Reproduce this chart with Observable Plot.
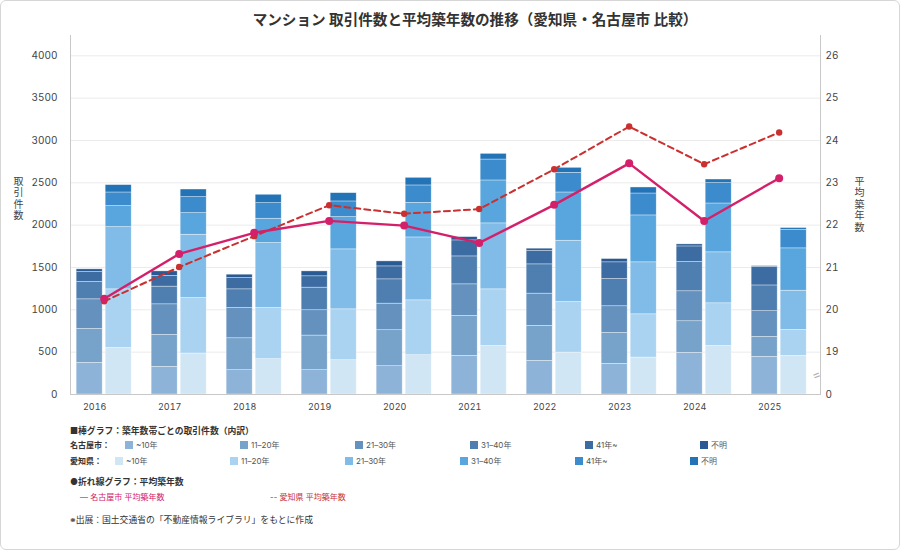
<!DOCTYPE html>
<html><head><meta charset="utf-8">
<script src="https://cdn.jsdelivr.net/npm/d3@7"></script>
<script src="https://cdn.jsdelivr.net/npm/@observablehq/plot@0.6"></script>
<style>
body{margin:0;background:#fff;font-family:Inter,"Noto Sans CJK JP",sans-serif;color:#333;}
#wrap{position:relative;width:900px;height:550px;overflow:hidden;background:#fff;}
#border{position:absolute;left:0;top:0;width:898px;height:548px;border:1px solid #d6d6d6;border-radius:6px;pointer-events:none;}
#title{position:absolute;left:0;top:0;width:950px;height:30px;line-height:40px;text-align:center;font-size:14.6px;font-weight:700;color:#333;}
#chart{position:absolute;left:0;top:30px;}
.vlab{position:absolute;writing-mode:vertical-rl;text-orientation:upright;font-size:10px;color:#444;letter-spacing:1.5px;}
.lg{position:absolute;font-size:8px;color:#555;white-space:nowrap;line-height:10px;}
.lgb{position:absolute;font-size:8.8px;font-weight:700;color:#333;white-space:nowrap;line-height:12px;}
.sw{position:absolute;width:8px;height:8px;}
</style></head>
<body><div id="wrap">
<div id="title">マンション 取引件数と平均築年数の推移（愛知県・名古屋市 比較）</div>
<div id="chart"></div>
<div class="vlab" style="left:11px;top:176px;">取引件数</div>
<div class="vlab" style="left:852px;top:176px;">平均築年数</div>
<div id="legend"></div>
<div id="border"></div>
</div>
<script>
const years = [2016, 2017, 2018, 2019, 2020, 2021, 2022, 2023, 2024, 2025];
const bands = ["~10年", "11–20年", "21–30年", "31–40年", "41年~", "不明"];
const regions = ["名古屋市", "愛知県"];

// 名古屋市 件数（築年数帯別）
const nagoya10   = [373, 326, 287, 287, 334, 456, 397, 362, 491, 444];
const nagoya1120 = [401, 378, 377, 409, 425, 472, 413, 365, 374, 236];
const nagoya2130 = [350, 361, 358, 299, 314, 373, 381, 315, 354, 304];
const nagoya3140 = [205, 209, 220, 267, 287, 330, 346, 322, 346, 304];
const nagoya41   = [118, 127, 134, 134, 153, 189, 161, 197, 184, 220];
const nagoyaUnk  = [31, 53, 39, 58, 59, 39, 24, 39, 24, 8];
// 愛知県 件数（築年数帯別）
const aichi10   = [550, 484, 417, 405, 464, 574, 495, 436, 574, 456];
const aichi1120 = [692, 656, 605, 601, 648, 668, 598, 511, 503, 307];
const aichi2130 = [735, 747, 767, 708, 743, 779, 723, 614, 602, 463];
const aichi3140 = [248, 255, 287, 381, 409, 507, 570, 554, 577, 500];
const aichi41   = [161, 189, 184, 185, 205, 247, 232, 259, 240, 220];
const aichiUnk  = [87, 90, 99, 98, 90, 67, 59, 71, 43, 20];
// 平均築年数
const nagoyaAvg = [20.26, 21.32, 21.82, 22.10, 21.99, 21.58, 22.48, 23.46, 22.10, 23.11];
const aichiAvg  = [20.20, 21.01, 21.74, 22.47, 22.27, 22.38, 23.32, 24.33, 23.44, 24.19];

const countTicks = [0, 500, 1000, 1500, 2000, 2500, 3000, 3500, 4000];
const avgTicks = [19, 20, 21, 22, 23, 24, 25, 26];
const avgBase = 18, avgUnit = 500, axisBreak = 18.5;

const nagoyaColors = ["#8db4d8", "#77a2c9", "#6491be", "#4f7fb1", "#3d6ca2", "#295a93"];
const aichiColors  = ["#d1e6f5", "#aad3f2", "#80bce7", "#58a6dd", "#3c8bcc", "#2373b7"];
const lineNagoya = "#d4206a", lineAichi = "#c9302f";

const seriesBy = {
  "名古屋市": [nagoya10, nagoya1120, nagoya2130, nagoya3140, nagoya41, nagoyaUnk],
  "愛知県": [aichi10, aichi1120, aichi2130, aichi3140, aichi41, aichiUnk]
};
const rows = [];
for (const r of regions) years.forEach((y, i) => bands.forEach((b, j) => rows.push({region: r, year: y, band: b, key: r + b, value: seriesBy[r][j][i]})));
const avgRows = (arr) => years.map((y, i) => ({year: y, avg: arr[i]}));
const toCount = (a) => (a - avgBase) * avgUnit;

const slot = {"名古屋市": [-0.367, -0.02], "愛知県": [0.02, 0.367]};

const chart = Plot.plot({
  width: 900, height: 390,
  marginLeft: 70, marginRight: 80, marginTop: 5, marginBottom: 26,
  style: {fontFamily: 'Inter, "Noto Sans CJK JP", sans-serif', color: "#444", background: "transparent"},
  x: {domain: [2015.551, 2025.551]},
  y: {domain: [0, 4240]},
  color: {type: "ordinal", domain: regions.flatMap(r => bands.map(b => r + b)), range: [...nagoyaColors, ...aichiColors]},
  marks: [
    Plot.gridY(countTicks.filter(d => d > 0), {stroke: "#ebebeb", strokeOpacity: 1}),
    Plot.rectY(rows, {
      x1: d => d.year + slot[d.region][0], x2: d => d.year + slot[d.region][1],
      y: "value", fill: "key", stroke: "#ffffff", strokeWidth: 0.6, strokeOpacity: 0.6
    }),
    Plot.frame({anchor: "left", stroke: "#c8c8c8"}),
    Plot.frame({anchor: "right", stroke: "#c8c8c8"}),
    Plot.frame({anchor: "bottom", stroke: "#c8c8c8"}),
    Plot.line(avgRows(aichiAvg), {x: "year", y: d => toCount(d.avg), stroke: lineAichi, strokeWidth: 2, strokeDasharray: "6,4"}),
    Plot.dot(avgRows(aichiAvg), {x: "year", y: d => toCount(d.avg), r: 3.2, fill: lineAichi}),
    Plot.line(avgRows(nagoyaAvg), {x: "year", y: d => toCount(d.avg), stroke: lineNagoya, strokeWidth: 2.4}),
    Plot.dot(avgRows(nagoyaAvg), {x: "year", y: d => toCount(d.avg), r: 4, fill: lineNagoya}),
    Plot.axisY(countTicks, {anchor: "left", tickSize: 0, tickPadding: 13, fontSize: 10, fill: "#444", label: null, tickFormat: d => String(d)}),
    Plot.axisY([0, ...avgTicks.map(toCount)], {anchor: "right", tickSize: 0, tickPadding: 5, fontSize: 10, fill: "#444", label: null,
      tickFormat: d => d === 0 ? "0" : String(Math.round(d / avgUnit + avgBase))}),
    Plot.text([axisBreak], {y: d => toCount(d), frameAnchor: "right", text: () => "=", rotate: -22, fontSize: 13, fill: "#b0b0b0"}),
    Plot.axisX(years, {tickSize: 0, tickPadding: 9, dx: -9.5, fontSize: 9, fill: "#444", tickFormat: d => String(d), label: null})
  ]
});
document.getElementById("chart").appendChild(chart);

// Legend
const lg = document.getElementById("legend");
function add(cls, x, y, text, style) {
  const e = document.createElement("div");
  e.className = cls; e.style.left = x + "px"; e.style.top = y + "px";
  if (text) e.textContent = text;
  if (style) Object.assign(e.style, style);
  lg.appendChild(e);
}
add("lgb", 70, 425, "■棒グラフ：築年数帯ごとの取引件数（内訳）");
add("lgb", 70, 439, "名古屋市：", {fontSize: "8px"});
add("lgb", 70, 455, "愛知県：", {fontSize: "8px"});
const nagoyaX = [125, 240, 355, 470, 585, 700];
const aichiX = [115, 230, 345, 460, 575, 690];
bands.forEach((b, j) => {
  add("sw", nagoyaX[j], 441, "", {background: nagoyaColors[j]});
  add("lg", nagoyaX[j] + 11, 440, b);
  add("sw", aichiX[j], 457, "", {background: aichiColors[j]});
  add("lg", aichiX[j] + 11, 456, b);
});
add("lgb", 70, 476, "●折れ線グラフ：平均築年数");
add("lg", 80, 492, "— 名古屋市 平均築年数", {color: lineNagoya});
add("lg", 270, 492, "-- 愛知県 平均築年数", {color: lineAichi});
add("lgb", 70, 514, "※出展：国土交通省の「不動産情報ライブラリ」をもとに作成", {fontWeight: "400", color: "#333"});
</script>
</body></html>
